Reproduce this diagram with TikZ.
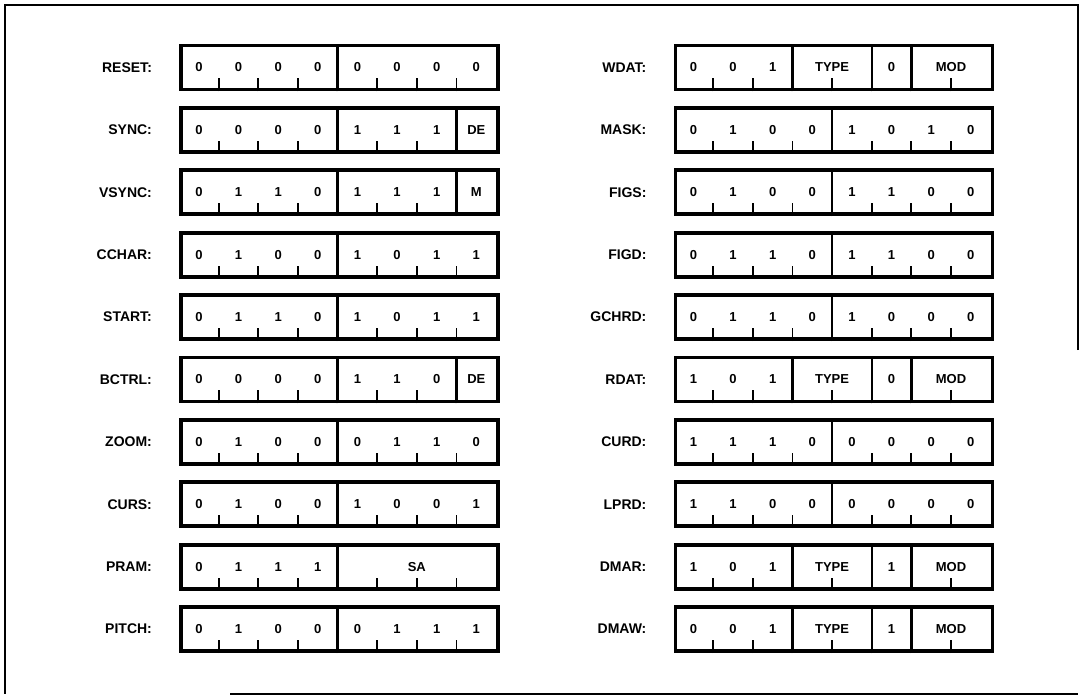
\documentclass[tikz,border=0pt]{standalone}
\usepackage{fontspec}
\setsansfont{Liberation Sans}
\usepackage{tikz}
\usetikzlibrary{positioning, calc}

\newcommand{\bitw}{39.625}

\begin{document}
\begin{tikzpicture}[
    x=1pt, y=-1pt,
    node distance=27pt,
    reglabel/.style={inner sep=0pt, font=\sffamily\bfseries\fontsize{14}{16}\selectfont},
    regbox/.style={rectangle, draw, line width=3.8pt, minimum width=317pt, minimum height=44pt, inner sep=0pt},
    bitval/.style={inner sep=0pt, font=\sffamily\bfseries\fontsize{13}{15}\selectfont},
    tickline/.style={line width=1.8pt},
    fieldline/.style={line width=2.4pt},
    frameline/.style={line width=2.2pt},
]
    \useasboundingbox (0,0) rectangle (1081,696);

    \draw[frameline] (1078,350) -- (1078,5) -- (5,5) -- (5,694);
    \draw[frameline] (230,694) -- (1078,694);

    \foreach \reg/\lbl/\vals/\full/\bx/\row in {
        reset/RESET/{0,0,0,0,0,0,0,0}/{4}/339.5/0,
        sync/SYNC/{0,0,0,0,1,1,1,DE}/{4,7}/339.5/1,
        vsync/VSYNC/{0,1,1,0,1,1,1,M}/{4,7}/339.5/2,
        cchar/CCHAR/{0,1,0,0,1,0,1,1}/{4}/339.5/3,
        start/START/{0,1,1,0,1,0,1,1}/{4}/339.5/4,
        bctrl/BCTRL/{0,0,0,0,1,1,0,DE}/{4,7}/339.5/5,
        zoom/ZOOM/{0,1,0,0,0,1,1,0}/{4}/339.5/6,
        curs/CURS/{0,1,0,0,1,0,0,1}/{4}/339.5/7,
        pram/PRAM/{0,1,1,1}/{4}/339.5/8,
        pitch/PITCH/{0,1,0,0,0,1,1,1}/{4}/339.5/9,
        wdat/WDAT/{0,0,1,,,0}/{3,5,6}/834/0,
        mask/MASK/{0,1,0,0,1,0,1,0}/{4}/834/1,
        figs/FIGS/{0,1,0,0,1,1,0,0}/{4}/834/2,
        figd/FIGD/{0,1,1,0,1,1,0,0}/{4}/834/3,
        gchrd/GCHRD/{0,1,1,0,1,0,0,0}/{4}/834/4,
        rdat/RDAT/{1,0,1,,,0}/{3,5,6}/834/5,
        curd/CURD/{1,1,1,0,0,0,0,0}/{4}/834/6,
        lprd/LPRD/{1,1,0,0,0,0,0,0}/{4}/834/7,
        dmar/DMAR/{1,0,1,,,1}/{3,5,6}/834/8,
        dmaw/DMAW/{0,0,1,,,1}/{3,5,6}/834/9%
    }{
        \node[regbox] (\reg) at (\bx, 67.5+62.4*\row) {};
        \node[reglabel, left=27pt of \reg] (\reg-lbl) {\lbl:};
        \foreach \i in {1,...,7}
            \draw[tickline] ($(\reg.south west)+(\i*\bitw,0)$) -- ++(0,-13);
        \foreach \f in \full
            \draw[fieldline] ($(\reg.south west)+(\f*\bitw,0)$) -- ($(\reg.north west)+(\f*\bitw,0)$);
        \foreach \v [count=\i] in \vals
            \node[bitval] (\reg-b\i) at ($(\reg.west)+(\i*\bitw-\bitw/2,0)$) {\v};
    }

    \foreach \reg in {wdat,rdat,dmar,dmaw} {
        \node[bitval] (\reg-type) at ($(\reg.west)+(4*\bitw,0)$) {TYPE};
        \node[bitval] (\reg-mod) at ($(\reg.west)+(7*\bitw,0)$) {MOD};
    }
    \node[bitval] (pram-sa) at ($(pram.west)+(6*\bitw,0)$) {SA};
\end{tikzpicture}
\end{document}
